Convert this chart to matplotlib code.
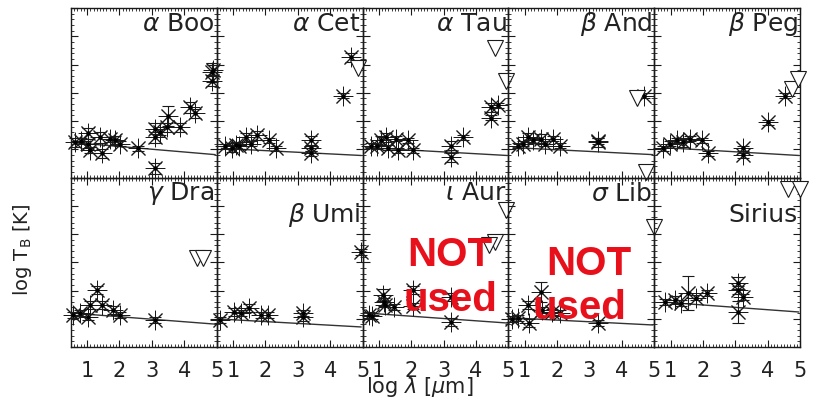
import matplotlib
matplotlib.use('Agg')
import matplotlib.pyplot as plt
from matplotlib.ticker import MultipleLocator, AutoMinorLocator, NullFormatter

# star names, same order as panels (row by row)
names = [r'$\alpha$ Boo', r'$\alpha$ Cet', r'$\alpha$ Tau', r'$\beta$ And', r'$\beta$ Peg',
         r'$\gamma$ Dra', r'$\beta$ Umi', r'$\iota$ Aur', r'$\sigma$ Lib', 'Sirius']

# measured brightness temperatures (log lambda, log T_B, error)
boo_x = [0.62, 0.80, 1.02, 1.02, 1.10, 1.40, 1.46, 1.70, 1.86, 2.01, 2.57, 3.09, 3.09, 3.09, 3.25, 3.49, 3.46, 3.86, 4.17, 4.33, 4.85, 4.85, 4.90]
boo_y = [1.24, 1.30, 1.56, 1.20, 0.98, 1.42, 0.85, 1.35, 1.31, 1.20, 1.03, 0.32, 1.73, 1.42, 1.60, 2.19, 1.77, 1.77, 2.48, 2.27, 3.72, 3.43, 3.80]
boo_e = [0.15, 0.10, 0.20, 0.15, 0.10, 0.20, 0.15, 0.10, 0.15, 0.10, 0.10, 0.20, 0.20, 0.20, 0.10, 0.35, 0.15, 0.15, 0.20, 0.15, 0.35, 0.20, 0.20]

cet_x = [0.75, 0.97, 1.10, 1.20, 1.40, 1.56, 1.75, 2.12, 2.34, 3.42, 3.42, 3.42, 4.39, 4.64]
cet_y = [1.10, 1.06, 1.15, 1.10, 1.42, 1.20, 1.49, 1.31, 1.03, 1.31, 1.03, 0.85, 2.90, 4.25]
cet_e = [0.10, 0.15, 0.10, 0.10, 0.15, 0.10, 0.15, 0.10, 0.10, 0.15, 0.10, 0.10, 0.10, 0.15]

tau_x = [0.75, 0.95, 1.06, 1.21, 1.27, 1.52, 1.58, 1.89, 2.07, 3.22, 3.22, 3.59, 4.45, 4.45, 4.67]
tau_y = [1.13, 1.10, 1.31, 1.42, 1.06, 1.38, 0.96, 1.31, 0.96, 1.13, 0.71, 1.42, 2.48, 2.12, 2.55]
tau_e = [0.10, 0.10, 0.15, 0.15, 0.10, 0.10, 0.10, 0.10, 0.10, 0.15, 0.15, 0.10, 0.15, 0.10, 0.10]

and_x = [0.78, 0.95, 1.09, 1.27, 1.49, 1.64, 1.89, 2.10, 3.25, 3.25, 4.67]
and_y = [1.13, 1.20, 1.42, 1.31, 1.38, 1.20, 1.38, 1.13, 1.24, 1.30, 2.90]
and_e = [0.10, 0.10, 0.15, 0.10, 0.15, 0.10, 0.10, 0.10, 0.15, 0.10, 0.10]

peg_x = [0.78, 0.99, 1.21, 1.40, 1.61, 1.98, 2.17, 3.25, 3.25, 4.02, 4.54]
peg_y = [1.03, 1.20, 1.31, 1.24, 1.38, 1.31, 0.85, 1.03, 0.78, 1.95, 2.90]
peg_e = [0.10, 0.10, 0.10, 0.15, 0.10, 0.10, 0.10, 0.10, 0.10, 0.10, 0.10]

dra_x = [0.56, 0.78, 1.02, 1.09, 1.30, 1.46, 1.80, 2.01, 3.09]
dra_y = [1.13, 1.20, 1.06, 1.49, 2.02, 1.49, 1.31, 1.13, 0.96]
dra_e = [0.10, 0.10, 0.10, 0.15, 0.15, 0.15, 0.15, 0.10, 0.10]

umi_x = [0.60, 1.02, 1.24, 1.49, 1.86, 2.07, 3.15, 3.15, 4.94]
umi_y = [0.96, 1.24, 1.20, 1.38, 1.13, 1.13, 1.06, 1.20, 3.36]
umi_e = [0.10, 0.15, 0.10, 0.15, 0.10, 0.10, 0.15, 0.10, 0.10]

aur_x = [0.70, 0.80, 1.12, 1.15, 1.20, 1.46, 2.07, 2.07, 3.22, 3.22]
aur_y = [1.13, 1.10, 1.84, 1.59, 1.50, 1.42, 2.02, 1.45, 1.77, 0.88]
aur_e = [0.10, 0.10, 0.20, 0.15, 0.10, 0.10, 0.15, 0.10, 0.15, 0.15]

lib_x = [0.62, 0.78, 1.09, 1.12, 1.49, 1.55, 1.85, 2.10, 3.25]
lib_y = [1.00, 1.03, 1.49, 0.85, 1.95, 1.31, 1.25, 1.20, 0.85]
lib_e = [0.10, 0.10, 0.15, 0.15, 0.35, 0.10, 0.10, 0.10, 0.10]

sir_x = [0.84, 1.15, 1.31, 1.55, 1.80, 2.14, 3.09, 3.09, 3.25, 3.09]
sir_y = [1.59, 1.66, 1.56, 1.91, 1.75, 1.91, 2.27, 2.02, 1.77, 1.24]
sir_e = [0.10, 0.15, 0.10, 0.60, 0.10, 0.10, 0.20, 0.15, 0.10, 0.40]

# upper limits (triangles)
lim_x = [[], [4.85], [4.60, 4.91], [4.48, 4.73], [4.76, 4.94],
         [4.39, 4.57], [], [4.91, 4.60, 4.39], [4.98], [4.64, 5.0]]
lim_y = [[], [3.89], [4.60, 3.43], [2.80, 0.18], [3.15, 3.50],
         [3.15, 3.15], [], [4.85, 3.72, 3.61], [4.25], [5.60, 5.60]]

# model line end points
mod_x0 = [0.55, 0.65, 0.60, 0.65, 0.75, 0.55, 0.60, 0.65, 0.65, 0.78]
mod_x1 = [4.95, 4.95, 4.95, 4.95, 4.95, 4.95, 4.95, 4.95, 4.95, 4.95]
mod_y0 = [1.24, 1.03, 1.06, 1.06, 1.06, 1.20, 0.99, 1.20, 1.03, 1.59]
mod_y1 = [0.81, 0.78, 0.78, 0.81, 0.78, 0.81, 0.71, 0.85, 0.78, 1.24]

all_x = [boo_x, cet_x, tau_x, and_x, peg_x, dra_x, umi_x, aur_x, lib_x, sir_x]
all_y = [boo_y, cet_y, tau_y, and_y, peg_y, dra_y, umi_y, aur_y, lib_y, sir_y]
all_e = [boo_e, cet_e, tau_e, and_e, peg_e, dra_e, umi_e, aur_e, lib_e, sir_e]

# where the name sits (axes fraction, vertical centre)
name_y = [0.905, 0.905, 0.905, 0.905, 0.905, 0.905, 0.78, 0.91, 0.90, 0.78]

fig, axs = plt.subplots(2, 5, figsize=(8.14, 4.0), dpi=100, sharex=True, sharey=True)
fig.subplots_adjust(left=0.087, right=0.983, top=0.98, bottom=0.1325, wspace=0, hspace=0)

ink = '#1a1a1a'
for i, ax in enumerate(axs.flat):
    ax.set_facecolor('none')
    ax.plot([mod_x0[i], mod_x1[i]], [mod_y0[i], mod_y1[i]], color='#333333', lw=1.0, zorder=2)
    ax.errorbar(all_x[i], all_y[i], yerr=all_e[i], fmt='none', ecolor=ink,
                elinewidth=0.8, capsize=4, capthick=0.8, clip_on=False, zorder=3)
    ax.plot(all_x[i], all_y[i], ls='none', marker=(8, 2, 0), ms=14, mec=ink, mew=0.7,
            clip_on=False, zorder=3)
    ax.plot(all_x[i], all_y[i], ls='none', marker='o', ms=2.2, color='black',
            clip_on=False, zorder=4)
    if lim_x[i]:
        ax.plot(lim_x[i], lim_y[i], ls='none', marker='v', ms=11, mfc='white',
                mec=ink, mew=0.8, clip_on=False, zorder=3)
    ax.text(0.985, name_y[i], names[i], transform=ax.transAxes, ha='right', va='center',
            fontsize=18, color='#222222')

    ax.set_xlim(0.5, 5.0)
    ax.set_ylim(0, 6)
    ax.xaxis.set_major_locator(MultipleLocator(1))
    ax.xaxis.set_minor_locator(MultipleLocator(0.1))
    ax.yaxis.set_major_locator(MultipleLocator(1))
    ax.yaxis.set_minor_locator(AutoMinorLocator(5))
    ax.yaxis.set_major_formatter(NullFormatter())
    ax.tick_params(which='both', direction='in', top=True, right=True, color=ink)
    ax.tick_params(which='major', length=5, width=0.8)
    ax.tick_params(which='minor', length=2.5, width=0.6)
    ax.tick_params(axis='x', labelsize=15, labelcolor='#222222', pad=10)
    for s in ax.spines.values():
        s.set_linewidth(1.0)
        s.set_color(ink)

# not used panels
for k in [7, 8]:
    ax = axs.flat[k]
    pos = [(0.60, 0.54, 0.60, 0.28), (0.55, 0.49, 0.49, 0.23)][k - 7]
    ax.text(pos[0], pos[1], 'NOT', transform=ax.transAxes, ha='center', va='center',
            fontsize=29, fontweight='bold', color='#e8101a', family='Liberation Sans', zorder=6)
    ax.text(pos[2], pos[3], 'used', transform=ax.transAxes, ha='center', va='center',
            fontsize=29, fontweight='bold', color='#e8101a', family='Liberation Sans', zorder=6)

fig.text(420 / 814, 1 - 387 / 400, r'log $\lambda$ [$\mu$m]', ha='center', va='center',
         fontsize=15, color='#222222')
fig.text(22 / 814, 1 - 250 / 400, r'log T$_\mathrm{B}$ [K]', ha='center', va='center',
         rotation=90, fontsize=14, color='#222222')

fig.savefig('out.png', dpi=100)
